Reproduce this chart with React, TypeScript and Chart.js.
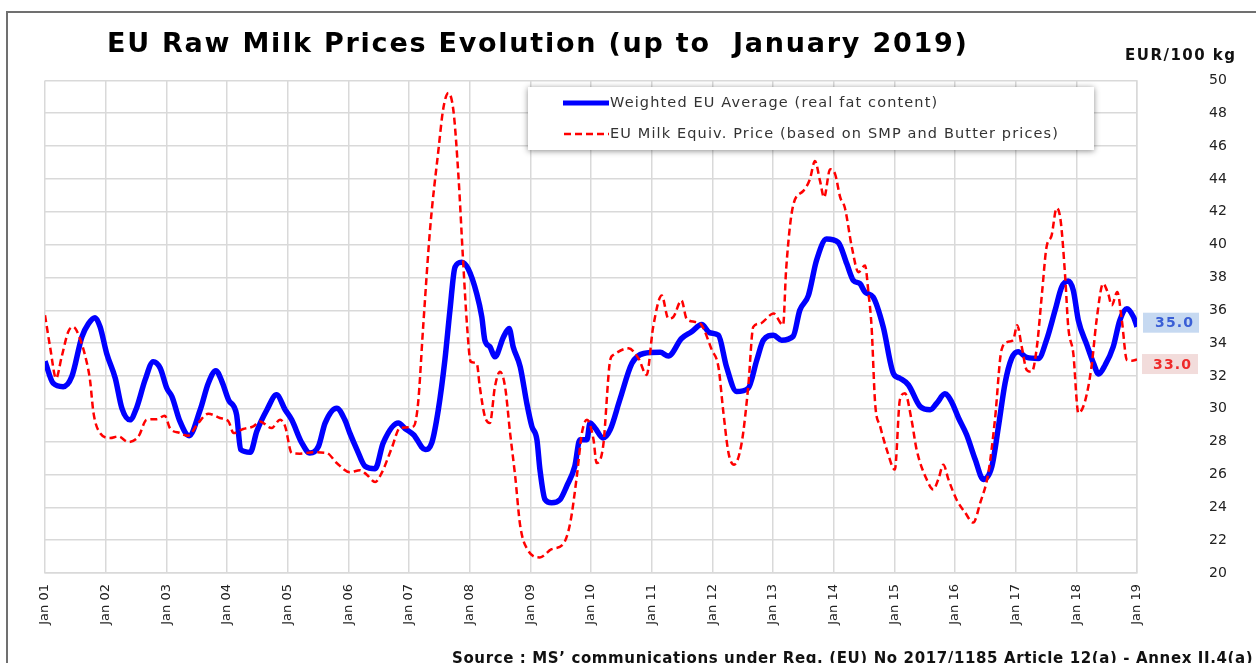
import React, { useEffect, useRef } from 'react';
import { Chart, registerables } from 'chart.js';

Chart.register(...registerables);

const W = 1256;
const H = 663;
const FONT = '"DejaVu Sans", Verdana, sans-serif';

const TITLE = 'EU Raw Milk Prices Evolution (up to  January 2019)';
const UNIT = 'EUR/100 kg';
const SOURCE = 'Source : MS\u2019 communications under Req. (EU) No 2017/1185 Article 12(a) - Annex II.4(a)';
const SERIES_NAMES = ['Weighted EU Average (real fat content)', 'EU Milk Equiv. Price (based on SMP and Butter prices)'];

// x axis tick labels (one per January, month index = 12 * i from Jan 2001)
const yearLabels = ['Jan 01', 'Jan 02', 'Jan 03', 'Jan 04', 'Jan 05', 'Jan 06', 'Jan 07', 'Jan 08', 'Jan 09', 'Jan 10',
  'Jan 11', 'Jan 12', 'Jan 13', 'Jan 14', 'Jan 15', 'Jan 16', 'Jan 17', 'Jan 18', 'Jan 19'];

// Weighted EU average: months since Jan 2001, EUR/100 kg
const blueMonths = [0, 1.6, 3.6, 5.3, 7.3, 8.6, 9.9, 10.9, 12.2, 13.9, 15.2, 16.8, 18.1, 19.8, 21.4, 22.8, 24.1, 25.1, 26.7, 28.5,
  30.7, 32.3, 33.8, 35.0, 36.3, 37.9, 38.7, 40.6, 41.9, 43.9, 45.8, 47.5, 48.8, 50.8, 52.4, 54.1, 55.4, 57.7, 59.3, 60.3,
  61.7, 63.3, 65.3, 66.9, 69.9, 71.2, 72.9, 75.2, 76.5, 77.8, 79.1, 80.1, 81.1, 82.4, 83.7, 85.4, 86.4, 87.0, 88.0, 89.0,
  90.7, 91.8, 92.6, 94.0, 95.3, 96.3, 97.3, 97.9, 98.9, 100.2, 101.9, 103.2, 104.8, 105.8, 107.2, 107.8, 108.8, 110.4, 111.8, 113.7,
  116.1, 118.4, 121.7, 123.3, 125.9, 127.9, 129.9, 131.5, 133.2, 134.8, 136.8, 139.1, 140.8, 142.1, 144.1, 145.7, 148.0, 149.3, 151.0, 152.6,
  154.6, 156.9, 158.6, 159.9, 161.2, 162.2, 163.8, 165.8, 167.8, 169.1, 170.8, 173.1, 175.1, 176.4, 178.0, 179.3, 180.7, 182.3, 184.0, 185.6,
  187.3, 188.6, 189.9, 191.2, 192.5, 194.2, 196.5, 198.1, 199.8, 201.1, 202.4, 203.4, 204.4, 206.1, 207.4, 208.4, 209.7, 211.3, 212.6, 214.0,
  215.3, 216];
const blueValues = [32.9, 31.56, 31.35, 31.96, 34.38, 35.19, 35.55, 34.99, 33.37, 31.86, 30.04, 29.33, 30.04, 31.76, 32.87, 32.47, 31.25, 30.75, 29.23, 28.36,
  29.94, 31.56, 32.32, 31.66, 30.55, 29.64, 27.52, 27.35, 28.63, 29.94, 30.85, 29.94, 29.33, 27.92, 27.31, 27.72, 29.13, 30.04, 29.33, 28.52,
  27.52, 26.5, 26.35, 27.92, 29.13, 28.8, 28.42, 27.52, 27.92, 29.94, 32.97, 36.0, 38.63, 38.93, 38.53, 37.01, 35.6, 34.18, 33.78, 33.17,
  34.38, 34.89, 33.78, 32.56, 30.34, 28.93, 28.12, 26.3, 24.48, 24.28, 24.48, 25.29, 26.5, 28.12, 28.12, 29.13, 28.83, 28.22, 28.73, 30.55,
  32.77, 33.37, 33.44, 33.21, 34.28, 34.69, 35.13, 34.63, 34.48, 32.56, 31.05, 31.25, 32.97, 34.18, 34.48, 34.18, 34.42, 36.0, 36.9, 39.03,
  40.34, 40.14, 38.83, 37.82, 37.62, 37.11, 36.81, 34.99, 32.16, 31.86, 31.45, 30.14, 29.94, 30.34, 30.91, 30.44, 29.44, 28.42, 26.91, 25.7,
  26.5, 28.93, 31.56, 33.07, 33.47, 33.13, 33.07, 34.18, 36.0, 37.41, 37.78, 37.21, 35.39, 33.88, 32.77, 32.12, 32.67, 33.78, 35.39, 36.1,
  35.6, 35.0];

// EU milk equivalent price (SMP + butter)
const redMonths = [0, 1.0, 2.2, 3.3, 4.6, 5.6, 6.9, 8.3, 8.9, 9.6, 10.9, 12.9, 14.5, 16.5, 18.5, 20.1, 22.1, 23.7, 24.7, 26.7,
  28.3, 30.3, 32.3, 34.6, 36.3, 37.3, 39.2, 41.2, 42.5, 44.8, 46.5, 47.5, 48.8, 50.4, 53.1, 55.7, 57.7, 60.3, 62.3, 63.6,
  65.3, 66.6, 68.6, 70.2, 72.9, 73.8, 74.8, 76.2, 77.8, 78.8, 79.8, 80.8, 81.8, 82.7, 83.5, 84.2, 85.4, 86.0, 87.0, 88.0,
  89.0, 90.0, 91.0, 92.0, 93.0, 94.0, 95.6, 97.9, 100.2, 102.5, 103.9, 105.2, 106.2, 107.2, 108.5, 109.1, 110.4, 111.8, 112.4, 115.4,
  117.4, 119.0, 120.3, 122.0, 123.3, 124.3, 125.9, 126.9, 128.6, 129.9, 131.9, 133.2, 134.2, 135.2, 136.3, 137.8, 139.1, 140.1, 141.4, 144.1,
  146.0, 146.6, 148.0, 150.0, 151.3, 152.3, 153.3, 154.1, 155.3, 156.3, 157.3, 158.2, 159.6, 160.9, 162.2, 162.9, 163.5, 164.2, 165.2, 166.5,
  168.1, 169.1, 170.1, 171.4, 172.4, 174.4, 175.7, 176.7, 177.7, 178.7, 180.3, 182.0, 183.6, 185.0, 186.6, 187.9, 189.2, 190.5, 191.5, 192.3,
  193.2, 194.2, 195.2, 196.2, 197.2, 198.1, 199.1, 200.1, 200.9, 201.8, 202.4, 203.4, 204.4, 205.7, 207.0, 208.0, 209.3, 210.3, 211.0, 212.1,
  213.0, 214.0, 215.0, 216];
const redValues = [35.7, 33.78, 31.86, 33.17, 34.69, 34.99, 34.28, 32.77, 31.76, 29.74, 28.52, 28.22, 28.32, 27.98, 28.32, 29.33, 29.37, 29.58, 28.83, 28.52,
  28.36, 29.13, 29.7, 29.44, 29.23, 28.52, 28.77, 28.93, 29.23, 28.83, 29.33, 28.93, 27.31, 27.27, 27.35, 27.31, 26.7, 26.14, 26.26, 26.0,
  25.54, 26.1, 27.62, 28.83, 28.93, 30.34, 34.99, 41.05, 45.7, 48.32, 49.23, 48.12, 44.08, 39.03, 34.99, 32.87, 32.77, 31.35, 29.54, 29.13,
  31.35, 32.26, 31.35, 28.52, 25.9, 22.87, 21.35, 20.95, 21.45, 21.76, 23.07, 25.9, 28.52, 29.33, 28.12, 26.7, 27.72, 32.97, 33.27, 33.68,
  33.07, 32.06, 34.99, 36.9, 35.49, 35.6, 36.6, 35.49, 35.29, 35.09, 33.58, 32.56, 29.74, 27.31, 26.6, 27.92, 31.35, 34.99, 35.19, 35.8,
  35.1, 38.5, 42.4, 43.27, 43.98, 45.09, 43.88, 42.87, 44.59, 44.28, 42.87, 42.26, 39.84, 38.32, 38.73, 37.01, 34.99, 30.34, 28.93, 27.52,
  26.3, 30.55, 30.95, 29.33, 27.52, 25.7, 25.09, 25.7, 26.6, 25.7, 24.48, 23.68, 23.07, 24.28, 26.1, 29.33, 33.58, 34.08, 34.18, 35.09,
  33.78, 32.36, 32.26, 33.78, 37.01, 39.84, 40.55, 42.22, 41.45, 38.02, 34.99, 33.37, 29.74, 30.44, 32.56, 35.39, 37.62, 37.01, 36.3, 37.11,
  35.39, 32.97, 32.93, 33.0];

const BLUE = '#0000ff';
const RED = '#ff0000';

// draw text left-aligned at x, stretched with letter spacing to span the given width
function fitText(ctx: any, text: string, x: number, y: number, width: number) {
  ctx.letterSpacing = '0px';
  const w = ctx.measureText(text).width;
  const sp = Math.max(0, (width - w) / Math.max(1, text.length - 1));
  ctx.letterSpacing = `${sp.toFixed(2)}px`;
  ctx.textAlign = 'left';
  ctx.fillText(text, x, y);
  ctx.letterSpacing = '0px';
}

export default function App() {
  const ref = useRef<HTMLCanvasElement>(null);

  useEffect(() => {
    const canvas = ref.current;
    if (!canvas) return;

    const overlay = {
      id: 'overlay',
      afterDraw(chart: any) {
        const ctx = chart.ctx as CanvasRenderingContext2D;
        const yScale = chart.scales.y;
        ctx.save();

        // outer frame
        ctx.strokeStyle = '#707070';
        ctx.lineWidth = 2;
        ctx.beginPath();
        ctx.moveTo(7, H + 5);
        ctx.lineTo(7, 12);
        ctx.lineTo(W + 5, 12);
        ctx.stroke();

        ctx.textBaseline = 'alphabetic';

        // title
        ctx.fillStyle = '#000';
        ctx.font = `bold 27px ${FONT}`;
        fitText(ctx, TITLE, 107, 52, 860);

        // unit
        ctx.font = `bold 15px ${FONT}`;
        ctx.fillStyle = '#111';
        fitText(ctx, UNIT, 1125, 60, 110);

        // source
        ctx.font = `bold 15px ${FONT}`;
        fitText(ctx, SOURCE, 452, 663, 801);

        // legend box
        ctx.save();
        ctx.shadowColor = 'rgba(0,0,0,0.45)';
        ctx.shadowBlur = 6;
        ctx.shadowOffsetX = 0;
        ctx.shadowOffsetY = 1;
        ctx.fillStyle = '#fff';
        ctx.fillRect(528, 87, 566, 63);
        ctx.restore();

        ctx.lineCap = 'butt';
        ctx.strokeStyle = BLUE;
        ctx.lineWidth = 5;
        ctx.beginPath();
        ctx.moveTo(563, 103);
        ctx.lineTo(609, 103);
        ctx.stroke();

        ctx.strokeStyle = RED;
        ctx.lineWidth = 2.5;
        ctx.setLineDash([7, 4]);
        ctx.beginPath();
        ctx.moveTo(564, 134);
        ctx.lineTo(609, 134);
        ctx.stroke();
        ctx.setLineDash([]);

        ctx.font = `14.5px ${FONT}`;
        ctx.fillStyle = '#333';
        ctx.textBaseline = 'middle';
        fitText(ctx, SERIES_NAMES[0], 610, 103, 327);
        fitText(ctx, SERIES_NAMES[1], 610, 134, 448);

        // last value boxes
        const lastBlue = blueValues[blueValues.length - 1];
        const lastRed = redValues[redValues.length - 1];
        const by = yScale.getPixelForValue(lastBlue) - 4;
        const ry = yScale.getPixelForValue(lastRed) + 4.5;
        ctx.fillStyle = '#c6d9f1';
        ctx.fillRect(1143, by - 10, 56, 20);
        ctx.fillStyle = '#f2dcdb';
        ctx.fillRect(1142, ry - 10, 56, 20);
        ctx.font = `bold 14px ${FONT}`;
        ctx.fillStyle = '#3a5fd6';
        fitText(ctx, lastBlue.toFixed(1), 1155, by + 1, 38);
        ctx.fillStyle = '#ee2a2a';
        fitText(ctx, lastRed.toFixed(1), 1153, ry + 1, 38);

        ctx.restore();
      },
    };

    const chart = new Chart(canvas, {
      type: 'line',
      data: {
        datasets: [
          {
            label: SERIES_NAMES[0],
            data: blueMonths.map((m, i) => ({ x: m, y: blueValues[i] })),
            borderColor: BLUE,
            borderWidth: 5.5,
            pointRadius: 0,
            cubicInterpolationMode: 'monotone',
            fill: false,
            order: 2,
          },
          {
            label: SERIES_NAMES[1],
            data: redMonths.map((m, i) => ({ x: m, y: redValues[i] })),
            borderColor: RED,
            borderWidth: 2.5,
            borderDash: [7, 4],
            pointRadius: 0,
            cubicInterpolationMode: 'monotone',
            fill: false,
            order: 1,
          },
        ],
      },
      options: {
        responsive: false,
        animation: false,
        devicePixelRatio: 1,
        layout: { padding: { left: 45, top: 79, right: 0, bottom: 0 } },
        plugins: {
          legend: { display: false },
          title: { display: false },
          tooltip: { enabled: false },
        },
        scales: {
          x: {
            type: 'linear',
            min: 0,
            max: 216,
            afterFit: (s: any) => { s.height = H - 573; },
            grid: { color: '#d9d9d9', lineWidth: 1.5, drawTicks: false },
            border: { color: '#d9d9d9', width: 1.5 },
            ticks: {
              stepSize: 12,
              autoSkip: false,
              minRotation: 90,
              maxRotation: 90,
              padding: 11,
              color: '#222',
              font: { family: FONT, size: 13 },
              callback: (v: any) => {
                const i = Math.round(Number(v) / 12);
                return Math.abs(Number(v) - i * 12) < 1e-6 ? yearLabels[i] : '';
              },
            },
          },
          y: {
            position: 'right',
            min: 20,
            max: 50,
            afterFit: (s: any) => { s.width = W - 1137; },
            grid: { color: '#d9d9d9', lineWidth: 1.5, drawTicks: false },
            border: { color: '#d9d9d9', width: 1.5 },
            ticks: {
              stepSize: 2,
              padding: 72,
              color: '#222',
              font: { family: FONT, size: 14 },
            },
          },
        },
      },
      plugins: [overlay],
    });

    return () => chart.destroy();
  }, []);

  return (
    <div style={{ position: 'absolute', left: 0, top: 0, width: W, height: H, background: '#fff' }}>
      <canvas ref={ref} width={W} height={H} style={{ display: 'block', width: W, height: H }} />
    </div>
  );
}
